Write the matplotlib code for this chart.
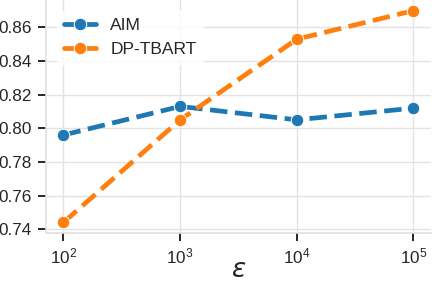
import numpy as np
import matplotlib
matplotlib.use("Agg")
import matplotlib.pyplot as plt
import seaborn as sns
from matplotlib.lines import Line2D

# data
epsilons = [1e2, 1e3, 1e4, 1e5]
aim = [0.796, 0.813, 0.805, 0.812]
dp_tbart = [0.744, 0.805, 0.853, 0.870]
series_names = ["AIM", "DP-TBART"]
series_colors = ["#1f77b4", "#ff7f0e"]

sns.set_style("whitegrid")
plt.rcParams['font.family'] = ['Liberation Sans', 'DejaVu Sans']

fig = plt.figure(figsize=(4.34, 2.82), dpi=100)
ax = fig.add_axes([46 / 434, 49 / 282, 385 / 434, 233 / 282])

handles = []
for vals, name, col in zip([aim, dp_tbart], series_names, series_colors):
    ax.plot(epsilons, vals, linestyle='--', linewidth=3.4, color=col,
            marker='o', markersize=9, markeredgecolor='white',
            markeredgewidth=0.7, label=name)
    handles.append(Line2D([], [], linestyle='-', linewidth=3.4, color=col,
                          marker='o', markersize=9, markeredgecolor='white',
                          markeredgewidth=0.7, label=name))

ax.set_xscale('log')
ax.set_xticks(epsilons)
ax.xaxis.set_minor_locator(matplotlib.ticker.NullLocator())
ax.set_yticks([0.74, 0.76, 0.78, 0.80, 0.82, 0.84, 0.86])
ax.yaxis.set_major_formatter(matplotlib.ticker.FormatStrFormatter('%.2f'))

ax.tick_params(axis='both', which='major', labelsize=12.3, length=6, width=1.4,
               color='#262626', labelcolor='#262626', pad=4,
               bottom=True, left=True)
for side in ['top', 'right']:
    ax.spines[side].set_visible(False)
for side in ['left', 'bottom']:
    ax.spines[side].set_color('#e0e0e0')
    ax.spines[side].set_linewidth(1.2)
ax.grid(True, color='#e3e3e3', linewidth=1)

ax.set_xlabel(r'$\varepsilon$', fontsize=19, color='#262626')
ax.xaxis.set_label_coords(0.5, -37 / 233, transform=ax.transAxes)
ax.xaxis.label.set_va('center')

leg = ax.legend(handles=handles, loc='upper left', fontsize=12.5,
                handlelength=1.85, frameon=True, framealpha=0.8,
                facecolor='white', edgecolor='white', borderaxespad=0.65)

fig.savefig('out.png', dpi=100)
